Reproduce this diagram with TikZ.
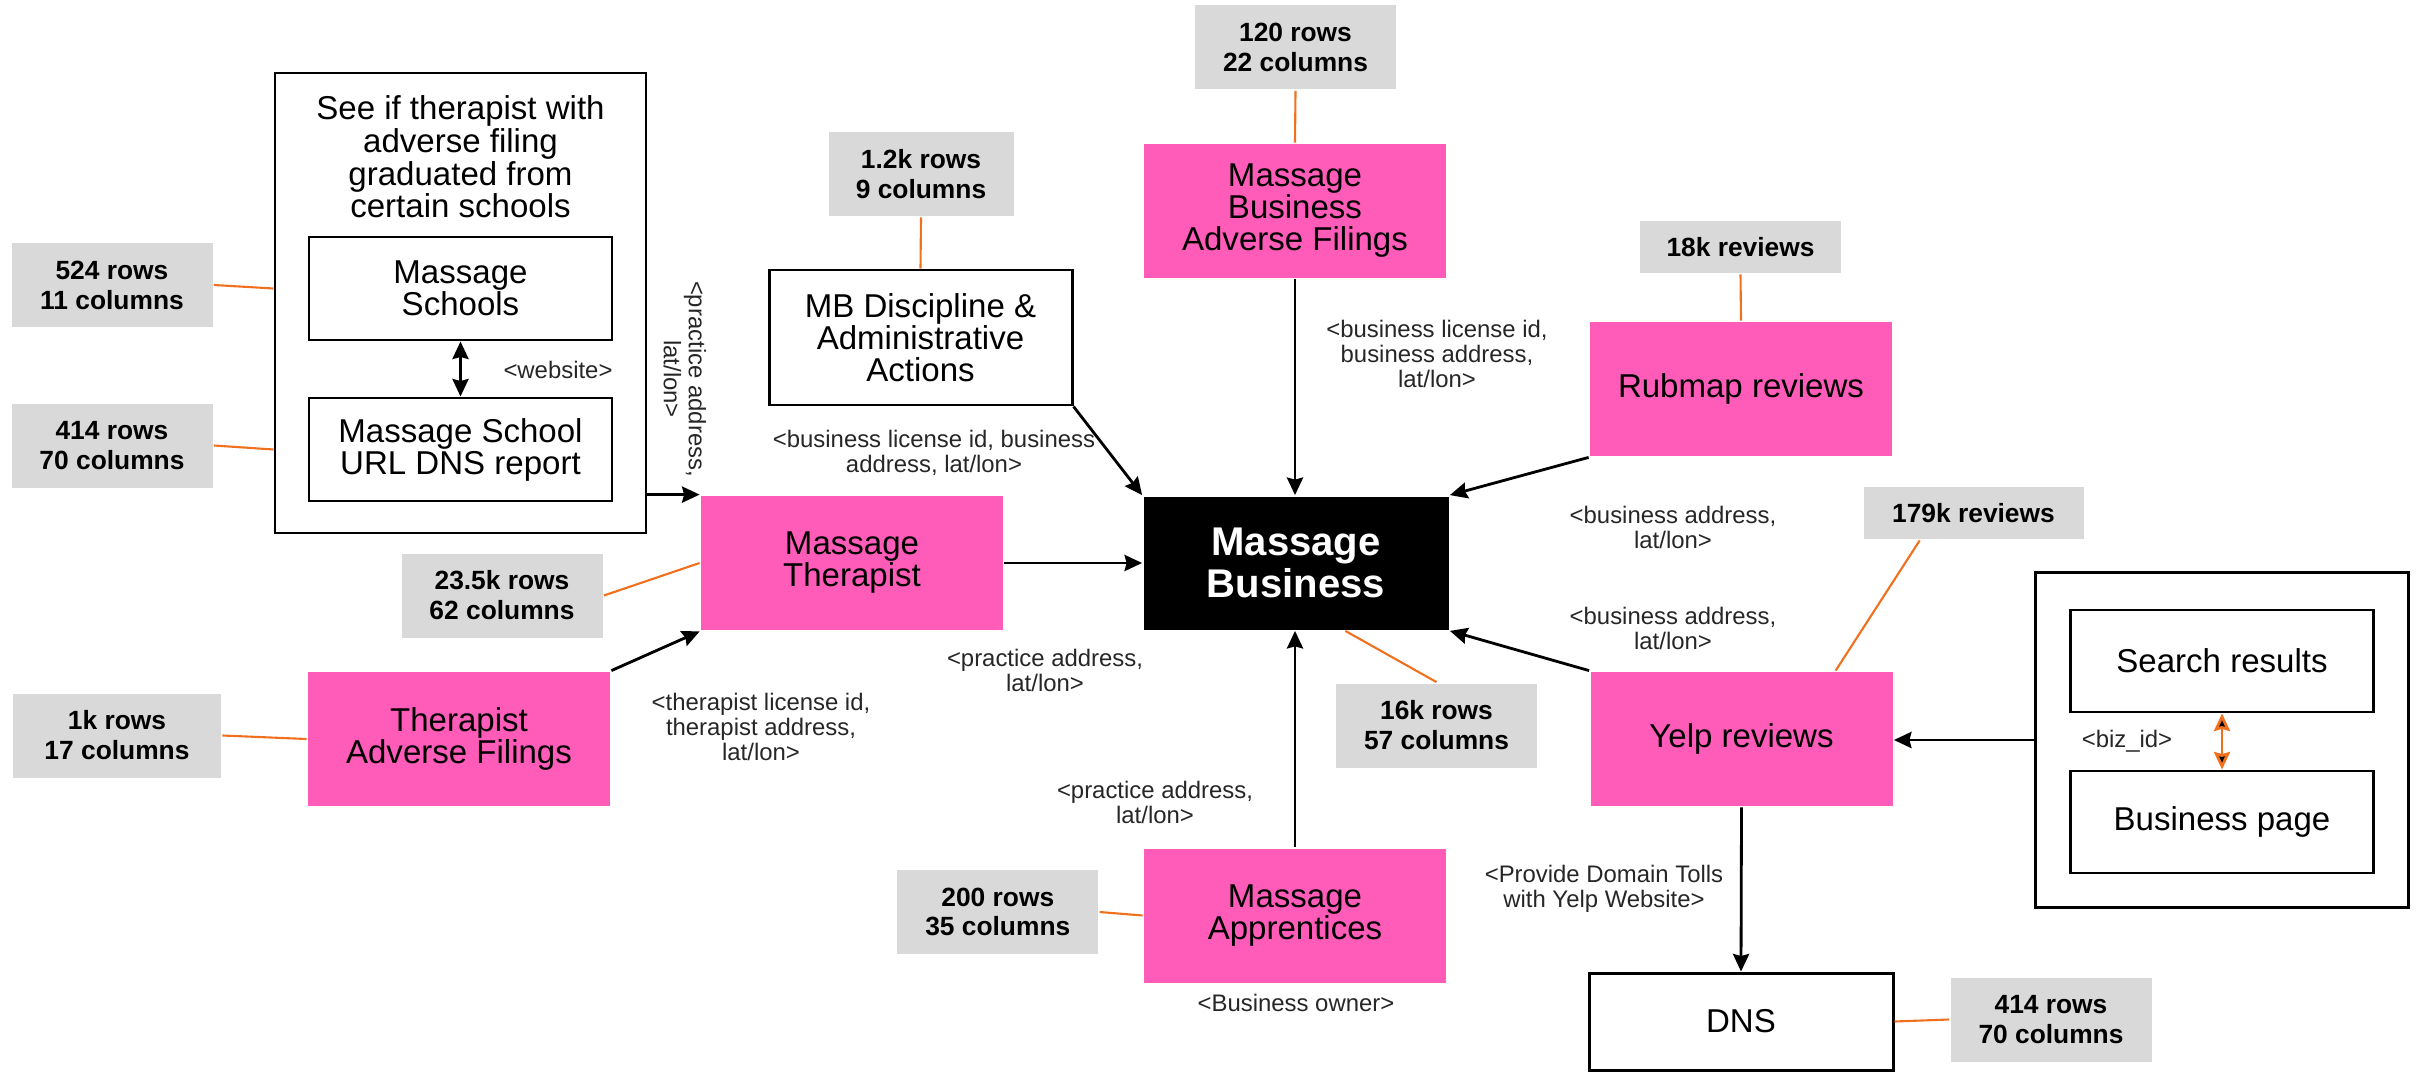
\documentclass[tikz,border=0pt]{standalone}
\usepackage{fontspec}
\setmainfont{Liberation Sans}
\usetikzlibrary{arrows.meta,positioning}

\definecolor{hotpink}{RGB}{255,92,186}
\definecolor{tagray}{RGB}{217,217,217}
\definecolor{linkorange}{RGB}{240,112,30}

\tikzset{
    pinkbox/.style={fill=hotpink, inner sep=0pt, align=center, minimum width=30.2mm, minimum height=13.4mm, font=\fontsize{9.4}{9.1}\selectfont},
    whitebox/.style={draw, line width=0.85pt, inner sep=0pt, align=center, minimum width=30.3mm, minimum height=10.3mm, font=\fontsize{9.4}{9.1}\selectfont},
    blackbox/.style={fill=black, text=white, inner sep=0pt, align=center, minimum width=30.5mm, minimum height=13.3mm, font=\fontsize{11.4}{11.9}\selectfont\bfseries},
    graybox/.style={fill=tagray, inner sep=0pt, align=center, minimum width=20.1mm, minimum height=8.4mm, font=\fontsize{7.5}{8.5}\selectfont\bfseries},
    grp/.style={draw, line width=0.85pt, inner sep=0pt},
    lbl/.style={inner sep=0pt, align=center, text=black!85, font=\fontsize{6.8}{7.1}\selectfont},
    link/.style={draw=linkorange, line width=0.6pt},
}

\begin{document}
\begin{tikzpicture}[x=0.1mm, y=-0.1mm, >={Stealth[length=5pt,width=4.6pt,inset=0.6pt]}, line width=0.8pt]
    \useasboundingbox (0,0) rectangle (2425,1073);

    % Nodes {schools, therapists}
    \node [grp, minimum width=37.1mm, minimum height=46mm]	(schoolgrp)	at (460.5,303)	{};
    \node [lbl, text=black, font=\fontsize{9.4}{9.3}\selectfont]	(schooltitle)	at (460.5,157)	{See if therapist with\\adverse filing\\graduated from\\certain schools};
    \node [whitebox]	(schools)	at (460.5,288.5)	{Massage\\Schools};
    \node [whitebox]	(dnsreport)	at (460.5,449.5)	{Massage School\\URL DNS report};
    \node [graybox]	(g524)	at (112,285)	{524 rows\\11 columns};
    \node [graybox]	(g414a)	at (112,445.5)	{414 rows\\70 columns};
    \node [pinkbox]	(therapist)	at (852,563)	{Massage\\Therapist};
    \node [graybox]	(g235)	at (502,595.5)	{23.5k rows\\62 columns};
    \node [pinkbox]	(tadverse)	at (459,739)	{Therapist\\Adverse Filings};
    \node [graybox, minimum width=20.8mm]	(g1k)	at (117,735.5)	{1k rows\\17 columns};

    % Nodes {business}
    \node [whitebox, minimum height=13.5mm]	(mbdisc)	at (920.5,337.5)	{MB Discipline \&\\Administrative\\Actions};
    \node [graybox, minimum width=18.5mm]	(g12k)	at (921,174)	{1.2k rows\\9 columns};
    \node [pinkbox]	(mbadverse)	at (1295,211)	{Massage\\Business\\Adverse Filings};
    \node [graybox]	(g120)	at (1295.5,47.5)	{120 rows\\22 columns};
    \node [blackbox]	(business)	at (1296,563)	{Massage\\Business};
    \node [graybox]	(g16k)	at (1436.5,725.5)	{16k rows\\57 columns};
    \node [pinkbox]	(apprentice)	at (1295,915.5)	{Massage\\Apprentices};
    \node [graybox]	(g200)	at (997.8,912)	{200 rows\\35 columns};

    % Nodes {reviews, web}
    \node [pinkbox]	(rubmap)	at (1741,389)	{Rubmap reviews};
    \node [graybox, minimum height=5.2mm]	(g18k)	at (1740.5,247)	{18k reviews};
    \node [pinkbox]	(yelp)	at (1741.5,739)	{Yelp reviews};
    \node [graybox, minimum width=22mm, minimum height=5.2mm]	(g179k)	at (1973.5,513)	{179k reviews};
    \node [grp, minimum width=37.3mm, minimum height=33.5mm]	(webgrp)	at (2222,740)	{};
    \node [whitebox, minimum height=10.2mm]	(search)	at (2222,661)	{Search results};
    \node [whitebox, minimum height=10.2mm]	(bizpage)	at (2222,822)	{Business page};
    \node [whitebox, minimum width=30.4mm, minimum height=9.7mm]	(dns)	at (1741,1021.5)	{DNS};
    \node [graybox]	(g414b)	at (2051,1019.5)	{414 rows\\70 columns};

    % Labels
    \node [lbl, rotate=-90]	(lblpract1)	at (685,379)	{<practice address,\\lat/lon>};
    \node [lbl]	(lblweb)	at (558,370)	{<website>};
    \node [lbl]	(lbltherap)	at (761,727)	{<therapist license id,\\therapist address,\\lat/lon>};
    \node [lbl]	(lblpract2)	at (1045,670)	{<practice address,\\lat/lon>};
    \node [lbl]	(lbldisc)	at (934,452.5)	{<business license id, business\\address, lat/lon>};
    \node [lbl]	(lbladverse)	at (1437,354)	{<business license id,\\business address,\\lat/lon>};
    \node [lbl]	(lblrub)	at (1673,527.5)	{<business address,\\lat/lon>};
    \node [lbl]	(lblyelp)	at (1673,628)	{<business address,\\lat/lon>};
    \node [lbl]	(lblpract3)	at (1155,802)	{<practice address,\\lat/lon>};
    \node [lbl]	(lblowner)	at (1296,1003)	{<Business owner>};
    \node [lbl]	(lbldns)	at (1604,888.5)	{<Provide Domain Tolls\\with Yelp Website>};
    \node [lbl]	(lblbiz)	at (2127,741)	{<biz\_id>};

    % Paths
    \path [->]	(schoolgrp.east |- therapist.north)	edge	(therapist.north west);
    \path [<->]	(schools)	edge	(dnsreport);
    \path [->]	(tadverse.north east)	edge	(therapist.south west);
    \path [->]	(therapist)	edge	(business);
    \path [->]	(mbdisc.south east)	edge	(business.north west);
    \path [->]	(mbadverse.south)	edge	(mbadverse.south |- business.north);
    \path [->]	(rubmap.south west)	edge	(business.north east);
    \path [->]	(yelp.north west)	edge	(business.south east);
    \path [->]	(apprentice.north)	edge	(apprentice.north |- business.south);
    \path [->]	(webgrp.west)	edge	(webgrp.west -| yelp.east);
    \path [->]	(yelp.south)	edge	(dns.north);
    \path [<->, draw=linkorange]	(search)	edge	(bizpage);

    % Table sizes
    \path [link]	(g524.east)	edge	(schoolgrp.west |- schools);
    \path [link]	(g414a.east)	edge	(schoolgrp.west |- dnsreport);
    \path [link]	(g235.east)	edge	(therapist.west);
    \path [link]	(g1k.east)	edge	(tadverse.west);
    \path [link]	(g12k.south)	edge	(mbdisc.north);
    \path [link]	(g120.south)	edge	(mbadverse.north);
    \path [link]	(g16k.north)	edge	(business.306);
    \path [link]	(g200.east)	edge	(apprentice.west);
    \path [link]	(g18k.south)	edge	(rubmap.north);
    \path [link]	(g179k.207)	edge	(yelp.36);
    \path [link]	(g414b.west)	edge	(dns.east);

\end{tikzpicture}
\end{document}
